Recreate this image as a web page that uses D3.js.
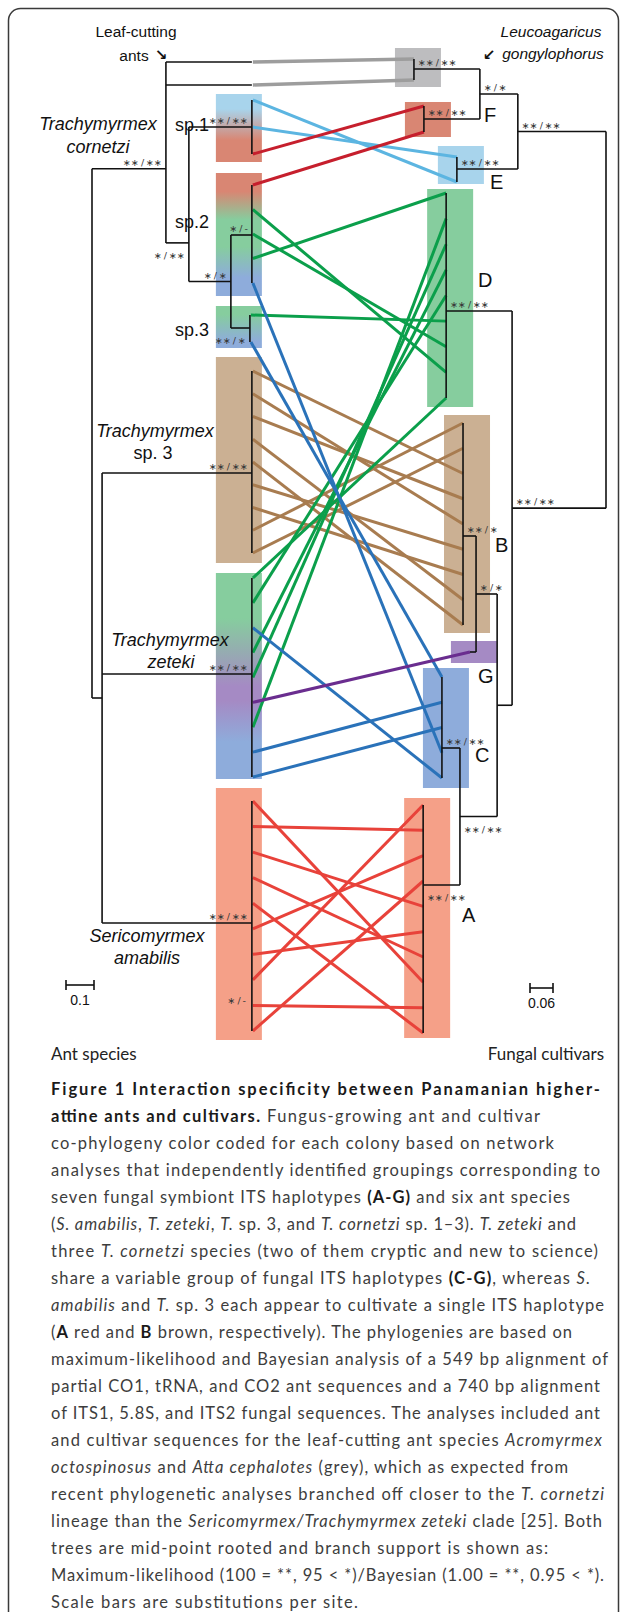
<!DOCTYPE html>
<html>
<head>
<meta charset="utf-8">
<script src="https://cdn.jsdelivr.net/npm/d3@7"></script>
<style>
  body { margin: 0; background: #fff; }
  svg text { font-family: "Liberation Sans", Arial, sans-serif; }
</style>
</head>
<body>
<div id="fig"></div>
<script>
// ---- data: ant tree (left). depth = substitutions per site from the mid-point root
const antNodes = [
  { id: 'a0', parent: null, depth: 0 },
  { id: 'a1', parent: 'a0', depth: 0.264, support: '**/**' },
  { id: 'a2', parent: 'a1', depth: 0.346, support: '*/**', below: true },
  { id: 'a3', parent: 'a2', depth: 0.496, support: '*/*' },
  { id: 'a4', parent: 'a0', depth: 0.036 }
];
const antClades = [
  { id: 'acro', parent: 'a1', tips: 1, depth: 0.571 },
  { id: 'atta', parent: 'a1', tips: 1, depth: 0.571 },
  { id: 'sp1', parent: 'a2', tips: 3, depth: 0.571, support: '**/**' },
  { id: 'sp2', parent: 'a3', tips: 5, depth: 0.571, support: '*/-' },
  { id: 'sp3', parent: 'a3', tips: 2, depth: 0.564, support: '**/*', below: true },
  { id: 'tsp3', parent: 'a4', tips: 9, depth: 0.571, support: '**/**' },
  { id: 'zet', parent: 'a4', tips: 9, depth: 0.571, support: '**/**' },
  { id: 'ama', parent: 'a4', tips: 10, depth: 0.571, support: '**/**' }
];

// ---- data: fungal cultivar tree (right)
const fungNodes = [
  { id: 'f0', parent: null, depth: 0 },
  { id: 'f4', parent: 'f0', depth: 0.230, support: '**/**' },
  { id: 'f5', parent: 'f4', depth: 0.329, support: '*/*' },
  { id: 'f1', parent: 'f0', depth: 0.245, support: '**/**' },
  { id: 'f2', parent: 'f1', depth: 0.284 },
  { id: 'f6', parent: 'f2', depth: 0.339, support: '*/*' },
  { id: 'f7', parent: 'f2', depth: 0.381, support: '**/**', below: true }
];
const fungClades = [
  { id: 'L', parent: 'f5', tips: 2, depth: 0.501, support: '**/**' },
  { id: 'F', parent: 'f5', tips: 2, depth: 0.475, support: '**/**' },
  { id: 'E', parent: 'f4', tips: 2, depth: 0.389, support: '**/**' },
  { id: 'D', parent: 'f1', tips: 9, depth: 0.417, support: '**/**' },
  { id: 'B', parent: 'f6', tips: 9, depth: 0.373, support: '**/*' },
  { id: 'G', parent: 'f6', tips: 1, depth: 0.355 },
  { id: 'C', parent: 'f7', tips: 5, depth: 0.428, support: '**/**' },
  { id: 'A', parent: 'f7', tips: 10, depth: 0.477, support: '**/**', below: true }
];

// ---- data: colony links [ant clade, ant tip, fungal clade, fungal tip]
const linksGrey = [['acro', 0, 'L', 0], ['atta', 0, 'L', 1]];
const linksLightBlue = [['sp1', 0, 'E', 1], ['sp1', 1, 'E', 0]];
const linksDarkRed = [['sp1', 2, 'F', 0], ['sp2', 0, 'F', 1]];
const linksGreen = [['sp2', 1, 'D', 7], ['sp2', 2, 'D', 6], ['sp2', 3, 'D', 0], ['sp3', 0, 'D', 5],
  ['zet', 0, 'D', 8], ['zet', 1, 'D', 4], ['zet', 3, 'D', 3], ['zet', 4, 'D', 2], ['zet', 6, 'D', 1]];
const linksBlue = [['sp2', 4, 'C', 3], ['sp3', 1, 'C', 0], ['zet', 2, 'C', 4], ['zet', 7, 'C', 1], ['zet', 8, 'C', 2]];
const linksPurple = [['zet', 5, 'G', 0]];
const linksBrown = [[0, 2], [1, 4], [2, 3], [3, 7], [4, 8], [5, 5], [6, 6], [7, 0], [8, 1]].map(d => ['tsp3', d[0], 'B', d[1]]);
const linksRed = [[0, 7], [1, 1], [2, 4], [3, 6], [4, 9], [5, 2], [6, 5], [7, 0], [8, 8], [9, 3]].map(d => ['ama', d[0], 'A', d[1]]);

const scaleBars = [0.1, 0.06];

// ---- caption text (b = bold, i = italic, r = regular)
const captionLines = [
  [['b', 'Figure 1 Interaction specificity between Panamanian higher-']],
  [['b', 'attine ants and cultivars.'], ['r', ' Fungus-growing ant and cultivar']],
  [['r', 'co-phylogeny color coded for each colony based on network']],
  [['r', 'analyses that independently identified groupings corresponding to']],
  [['r', 'seven fungal symbiont ITS haplotypes '], ['b', '(A-G)'], ['r', ' and six ant species']],
  [['r', '('], ['i', 'S. amabilis'], ['r', ', '], ['i', 'T. zeteki'], ['r', ', '], ['i', 'T.'], ['r', ' sp. 3, and '], ['i', 'T. cornetzi'], ['r', ' sp. 1–3). '], ['i', 'T. zeteki'], ['r', ' and']],
  [['r', 'three '], ['i', 'T. cornetzi'], ['r', ' species (two of them cryptic and new to science)']],
  [['r', 'share a variable group of fungal ITS haplotypes '], ['b', '(C-G)'], ['r', ', whereas '], ['i', 'S.']],
  [['i', 'amabilis'], ['r', ' and '], ['i', 'T.'], ['r', ' sp. 3 each appear to cultivate a single ITS haplotype']],
  [['r', '('], ['b', 'A'], ['r', ' red and '], ['b', 'B'], ['r', ' brown, respectively). The phylogenies are based on']],
  [['r', 'maximum-likelihood and Bayesian analysis of a 549 bp alignment of']],
  [['r', 'partial CO1, tRNA, and CO2 ant sequences and a 740 bp alignment']],
  [['r', 'of ITS1, 5.8S, and ITS2 fungal sequences. The analyses included ant']],
  [['r', 'and cultivar sequences for the leaf-cutting ant species '], ['i', 'Acromyrmex']],
  [['i', 'octospinosus'], ['r', ' and '], ['i', 'Atta cephalotes'], ['r', ' (grey), which as expected from']],
  [['r', 'recent phylogenetic analyses branched off closer to the '], ['i', 'T. cornetzi']],
  [['r', 'lineage than the '], ['i', 'Sericomyrmex/Trachymyrmex zeteki'], ['r', ' clade [25]. Both']],
  [['r', 'trees are mid-point rooted and branch support is shown as:']],
  [['r', 'Maximum-likelihood (100 = **, 95 < *)/Bayesian (1.00 = **, 0.95 < *).']],
  [['r', 'Scale bars are substitutions per site.']]
];

// ---- layout (pixels)
const W = 627, H = 1612;
// tip band per clade: [first tip y, last tip y, stem y, box top, box bottom]
const antBand = {
  acro: [62, 62, 62], atta: [85, 85, 85],
  sp1: [100, 154, 127, 94, 162], sp2: [185, 283, 235, 173, 296], sp3: [315, 342, 328, 306, 348],
  tsp3: [371, 553, 473, 357, 563], zet: [578, 777, 674, 573, 779], ama: [801, 1031, 923, 788, 1040]
};
const fungBand = {
  L: [59, 80, 69, 48, 87], F: [106, 132, 119, 102, 137], E: [157, 182, 169, 146, 184],
  D: [193, 398, 311, 189, 407], B: [423, 625, 536, 415, 633], G: [652, 652, 652, 641, 663],
  C: [677, 778, 748, 668, 788], A: [805, 1033, 885, 798, 1038]
};
const nodeBias = { a1: 0.59, a2: 0.75 };
const captionEnds = [600, 540, 554, 600, 570, 576, 598, 590, 604, 572, 608, 600, 600, 602, 568, 604, 602, 548, 604, 358];

const boxFill = {
  sp1: 'g-sp1', sp2: 'g-sp2', sp3: 'g-sp3', tsp3: '#cbb093', zet: 'g-zet', ama: '#f5a088',
  L: '#bdbdbf', F: '#d98673', E: '#a8d4ec', D: '#86cd9e', B: '#cbb093', G: '#a58ac4', C: '#8eacdb', A: '#f5a088'
};
const linkColor = {
  grey: '#9d9d9d', lightblue: '#5cb5e1', darkred: '#c61f2d', green: '#0b9f4b',
  blue: '#2a72b9', purple: '#6a2d8f', brown: '#a87c50', red: '#e8423a'
};

const xAnt = d3.scaleLinear().domain([0, 0.1]).range([92, 120]);
const xFung = d3.scaleLinear().domain([0, 0.06]).range([606, 583]);

const svg = d3.select('#fig').append('svg')
  .attr('width', W).attr('height', H)
  .attr('viewBox', `0 0 ${W} ${H}`);

// gradients for mixed colony boxes
const defs = svg.append('defs');
const grads = {
  'g-sp1': [[0, '#a8d4ec'], [0.22, '#a8d4ec'], [0.68, '#d98673'], [1, '#d98673']],
  'g-sp2': [[0, '#d98673'], [0.15, '#d98673'], [0.38, '#86cd9e'], [0.6, '#86cd9e'], [0.85, '#8eacdb'], [1, '#8eacdb']],
  'g-sp3': [[0, '#86cd9e'], [0.2, '#86cd9e'], [0.85, '#8eacdb'], [1, '#8eacdb']],
  'g-zet': [[0, '#86cd9e'], [0.22, '#86cd9e'], [0.55, '#a58ac4'], [0.62, '#a58ac4'], [0.82, '#8eacdb'], [1, '#8eacdb']]
};
Object.entries(grads).forEach(([id, stops]) => {
  const g = defs.append('linearGradient').attr('id', id).attr('x1', 0).attr('y1', 0).attr('x2', 0).attr('y2', 1);
  stops.forEach(s => g.append('stop').attr('offset', s[0]).attr('stop-color', s[1]));
});

// frame
svg.append('rect')
  .attr('x', 8.5).attr('y', 8.5).attr('width', 610).attr('height', 1700).attr('rx', 12)
  .attr('fill', 'none').attr('stroke', '#3a3a3a').attr('stroke-width', 1.5);

// tip positions
function tipY(band, n, i) {
  if (n === 1) return band[0];
  return d3.scaleLinear().domain([0, n - 1]).range([band[0], band[1]])(i);
}
const antById = Object.fromEntries(antClades.map(d => [d.id, d]));
const fungById = Object.fromEntries(fungClades.map(d => [d.id, d]));

// boxes
const gBox = svg.append('g');
antClades.filter(d => antBand[d.id].length > 3).forEach(d => {
  const b = antBand[d.id], tx = xAnt(0.571);
  const f = boxFill[d.id];
  gBox.append('rect').attr('x', tx - 36).attr('y', b[3]).attr('width', 46).attr('height', b[4] - b[3])
    .attr('fill', f.startsWith('g-') ? `url(#${f})` : f);
});
fungClades.forEach(d => {
  const b = fungBand[d.id], tx = xFung(d.depth);
  gBox.append('rect').attr('x', tx - 19).attr('y', b[3]).attr('width', 46).attr('height', b[4] - b[3])
    .attr('fill', boxFill[d.id]);
});

// links between ant and cultivar tips
const gLink = svg.append('g').attr('fill', 'none').attr('stroke-linecap', 'butt');
const linkSets = [
  ['grey', linksGrey], ['lightblue', linksLightBlue], ['darkred', linksDarkRed], ['brown', linksBrown],
  ['green', linksGreen], ['blue', linksBlue], ['purple', linksPurple], ['red', linksRed]
];
linkSets.forEach(([col, links]) => {
  gLink.selectAll(null).data(links).enter().append('line')
    .attr('x1', d => xAnt(antById[d[0]].depth) + 1)
    .attr('y1', d => tipY(antBand[d[0]], antById[d[0]].tips, d[1]))
    .attr('x2', d => xFung(fungById[d[2]].depth))
    .attr('y2', d => tipY(fungBand[d[2]], fungById[d[2]].tips, d[3]))
    .attr('stroke', linkColor[col])
    .attr('stroke-width', col === 'grey' ? 3.4 : 3);
});

// tree drawing
const gTree = svg.append('g').attr('stroke', '#111').attr('stroke-width', 1.6).attr('fill', 'none');
const gSupport = svg.append('g');

function supportText(s) {
  // small centred stars, thin spaces round the slash
  return s.replace(/\*/g, '\u2217').replace('/', '\u2009/\u2009');
}

function drawTree(nodes, clades, bands, x, side) {
  const byId = Object.fromEntries(nodes.map(d => [d.id, d]));
  const yOf = {};
  clades.forEach(c => { yOf[c.id] = bands[c.id][2]; });
  // node y from children, deepest first
  const order = nodes.slice().sort((a, b) => b.depth - a.depth);
  order.forEach(n => {
    const kids = nodes.filter(m => m.parent === n.id).map(m => yOf[m.id])
      .concat(clades.filter(c => c.parent === n.id).map(c => yOf[c.id]));
    const lo = d3.min(kids), hi = d3.max(kids);
    const t = nodeBias[n.id] !== undefined ? nodeBias[n.id] : 0.5;
    yOf[n.id] = lo + (hi - lo) * t;
    n.lo = lo; n.hi = hi;
  });
  // vertical lines of internal nodes
  nodes.forEach(n => {
    gTree.append('line').attr('x1', x(n.depth)).attr('x2', x(n.depth)).attr('y1', n.lo).attr('y2', n.hi);
  });
  // stems
  const stems = nodes.filter(n => n.parent).concat(clades);
  stems.forEach(s => {
    const p = byId[s.parent];
    gTree.append('line').attr('x1', x(p.depth)).attr('x2', x(s.depth)).attr('y1', yOf[s.id]).attr('y2', yOf[s.id]);
    if (s.support) {
      const lx = side === 'left' ? x(s.depth) - 4 : x(s.depth) + 4;
      const ly = s.below ? yOf[s.id] + 16 : yOf[s.id] - 3;
      gSupport.append('text')
        .attr('x', lx).attr('y', ly)
        .attr('text-anchor', side === 'left' ? 'end' : 'start')
        .style('font-family', '"DejaVu Sans", sans-serif')
        .attr('font-size', 9.5).attr('fill', '#3a3a3a')
        .text(supportText(s.support));
    }
  });
  // tip lines of collapsed clades
  clades.filter(c => c.tips > 1).forEach(c => {
    const b = bands[c.id];
    gTree.append('line').attr('x1', x(c.depth)).attr('x2', x(c.depth)).attr('y1', b[0]).attr('y2', b[1]);
  });
}
drawTree(antNodes, antClades, antBand, xAnt, 'left');
drawTree(fungNodes, fungClades, fungBand, xFung, 'right');

// extra support inside S. amabilis
gSupport.append('text').attr('x', 246).attr('y', 1004).attr('text-anchor', 'end')
  .style('font-family', '"DejaVu Sans", sans-serif').attr('font-size', 9.5).attr('fill', '#3a3a3a')
  .text(supportText('*/-'));

// labels
const gLab = svg.append('g').attr('fill', '#111');
function lab(t, x, y, opts = {}) {
  return gLab.append('text').attr('x', x).attr('y', y)
    .attr('text-anchor', opts.anchor || 'start')
    .attr('font-size', opts.size || 18)
    .attr('font-style', opts.italic ? 'italic' : 'normal')
    .text(t);
}
lab('Leaf-cutting', 136, 37, { anchor: 'middle', size: 15.5 });
lab('ants', 134, 61, { anchor: 'middle', size: 15.5 });
lab('\u2198', 161, 60, { anchor: 'middle', size: 15 }).style('font-family', '"DejaVu Sans", sans-serif').attr('font-weight', 700);
lab('Leucoagaricus', 551, 37, { anchor: 'middle', size: 15.5, italic: true });
lab('gongylophorus', 553, 59, { anchor: 'middle', size: 15.5, italic: true });
lab('\u2199', 489, 60, { anchor: 'middle', size: 15 }).style('font-family', '"DejaVu Sans", sans-serif').attr('font-weight', 700);

lab('Trachymyrmex', 98, 130, { anchor: 'middle', italic: true });
lab('cornetzi', 98, 153, { anchor: 'middle', italic: true });
lab('sp.1', 175, 131);
lab('sp.2', 175, 228);
lab('sp.3', 175, 336);
lab('Trachymyrmex', 155, 437, { anchor: 'middle', italic: true });
lab('sp. 3', 153, 459, { anchor: 'middle' });
lab('Trachymyrmex', 170, 646, { anchor: 'middle', italic: true });
lab('zeteki', 171, 668, { anchor: 'middle', italic: true });
lab('Sericomyrmex', 147, 942, { anchor: 'middle', italic: true });
lab('amabilis', 147, 964, { anchor: 'middle', italic: true });

[['F', 484, 122], ['E', 490, 189], ['D', 478, 287], ['B', 495, 552], ['G', 478, 683], ['C', 475, 762], ['A', 462, 922]]
  .forEach(d => lab(d[0], d[1], d[2], { size: 20 }));

// scale bars
const gScale = svg.append('g').attr('stroke', '#111').attr('stroke-width', 1.6);
[[scaleBars[0], 66, 985, xAnt], [scaleBars[1], 530, 988, xFung]].forEach(([v, x0, y, sc]) => {
  const len = Math.abs(sc(v) - sc(0));
  gScale.append('line').attr('x1', x0).attr('x2', x0 + len).attr('y1', y).attr('y2', y);
  gScale.append('line').attr('x1', x0).attr('x2', x0).attr('y1', y - 5).attr('y2', y + 5);
  gScale.append('line').attr('x1', x0 + len).attr('x2', x0 + len).attr('y1', y - 5).attr('y2', y + 5);
  lab(String(v), x0 + len / 2, y + 20, { anchor: 'middle', size: 14 });
});

// side titles + caption
const capFont = 'Lato, "Open Sans", sans-serif';
svg.append('text').attr('x', 51).attr('y', 1060).style('font-family', capFont).attr('font-size', 17)
  .attr('fill', '#222').text('Ant species');
svg.append('text').attr('x', 604).attr('y', 1060).attr('text-anchor', 'end').style('font-family', capFont)
  .attr('font-size', 17).attr('fill', '#222').text('Fungal cultivars');

captionLines.forEach((segs, i) => {
  const t = svg.append('text')
    .attr('x', 51).attr('y', 1095 + 27 * i)
    .style('font-family', capFont).attr('font-size', 16.5)
    .attr('textLength', captionEnds[i] - 51).attr('lengthAdjust', 'spacing');
  segs.forEach(s => {
    t.append('tspan')
      .attr('font-weight', s[0] === 'b' ? 700 : 400)
      .attr('font-style', s[0] === 'i' ? 'italic' : 'normal')
      .attr('fill', s[0] === 'b' ? '#1a1a1a' : '#3d3d3d')
      .text(s[1]);
  });
});
</script>
</body>
</html>
